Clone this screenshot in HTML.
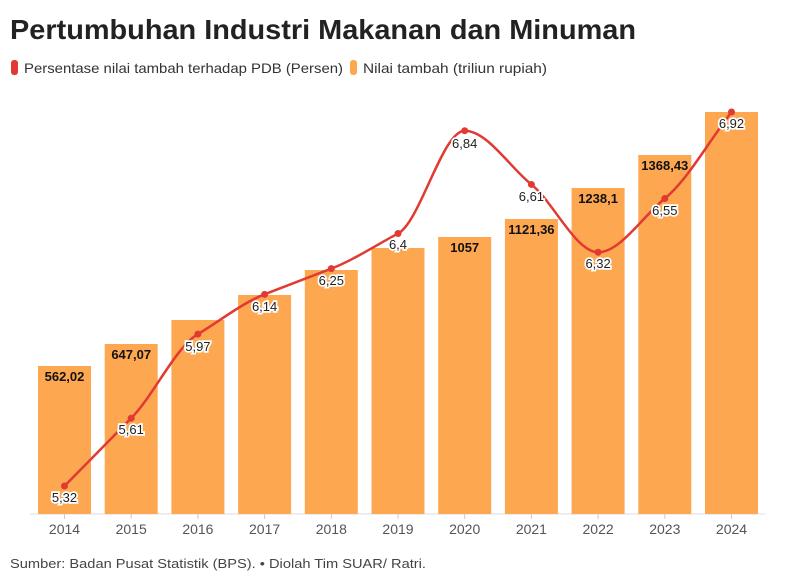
<!DOCTYPE html>
<html><head><meta charset="utf-8"><style>
body{margin:0;background:#fff;width:795px;height:582px;overflow:hidden;font-family:"Liberation Sans",sans-serif}
</style></head><body>
<svg width="795" height="582" xmlns="http://www.w3.org/2000/svg" style="font-family:'Liberation Sans',sans-serif">
<text x="10" y="39" font-size="28" font-weight="bold" fill="#222" textLength="626" lengthAdjust="spacingAndGlyphs">Pertumbuhan Industri Makanan dan Minuman</text>
<rect x="11" y="60" width="7" height="15" rx="3" fill="#e03a32"/>
<text x="24" y="73" font-size="14" fill="#333" textLength="319" lengthAdjust="spacingAndGlyphs">Persentase nilai tambah terhadap PDB (Persen)</text>
<rect x="350" y="60" width="7" height="15" rx="3" fill="#fda751"/>
<text x="363" y="73" font-size="14" fill="#333" textLength="184" lengthAdjust="spacingAndGlyphs">Nilai tambah (triliun rupiah)</text>
<line x1="30" y1="514" x2="765" y2="514" stroke="#ddd"/>
<g fill="#fda751">
<rect x="38" y="366" width="53" height="148"/>
<rect x="104.7" y="344" width="53" height="170"/>
<rect x="171.4" y="320" width="53" height="194"/>
<rect x="238.1" y="295" width="53" height="219"/>
<rect x="304.8" y="270" width="53" height="244"/>
<rect x="371.5" y="248" width="53" height="266"/>
<rect x="438.2" y="237" width="53" height="277"/>
<rect x="504.9" y="219" width="53" height="295"/>
<rect x="571.6" y="188" width="53" height="326"/>
<rect x="638.3" y="155" width="53" height="359"/>
<rect x="705" y="112" width="53" height="402"/>
</g>
<g stroke="#ccc"><line x1="64.5" y1="514" x2="64.5" y2="519"/><line x1="131.2" y1="514" x2="131.2" y2="519"/><line x1="197.9" y1="514" x2="197.9" y2="519"/><line x1="264.6" y1="514" x2="264.6" y2="519"/><line x1="331.3" y1="514" x2="331.3" y2="519"/><line x1="398" y1="514" x2="398" y2="519"/><line x1="464.7" y1="514" x2="464.7" y2="519"/><line x1="531.4" y1="514" x2="531.4" y2="519"/><line x1="598.1" y1="514" x2="598.1" y2="519"/><line x1="664.8" y1="514" x2="664.8" y2="519"/><line x1="731.5" y1="514" x2="731.5" y2="519"/></g>
<g font-size="14" fill="#555" text-anchor="middle">
<text x="64.5" y="534">2014</text><text x="131.2" y="534">2015</text><text x="197.9" y="534">2016</text><text x="264.6" y="534">2017</text><text x="331.3" y="534">2018</text><text x="398" y="534">2019</text><text x="464.7" y="534">2020</text><text x="531.4" y="534">2021</text><text x="598.1" y="534">2022</text><text x="664.8" y="534">2023</text><text x="731.5" y="534">2024</text>
</g>
<g font-size="13" font-weight="bold" fill="#111" text-anchor="middle" stroke="#fda751" stroke-width="3" paint-order="stroke">
<text x="64.5" y="381">562,02</text><text x="131.2" y="359">647,07</text><text x="464.7" y="252">1057</text><text x="531.4" y="234">1121,36</text><text x="598.1" y="203">1238,1</text><text x="664.8" y="170">1368,43</text>
</g>
<path id="ln" fill="none" stroke="#e03a32" stroke-width="2.5"/>
<g id="dots" fill="#e03a32"></g>
<g font-size="13" fill="#222" text-anchor="middle" stroke="#fff" stroke-width="3.5" paint-order="stroke">
<text x="64.5" y="502">5,32</text><text x="131.2" y="434">5,61</text><text x="197.9" y="351">5,97</text><text x="264.6" y="311">6,14</text><text x="331.3" y="285">6,25</text><text x="398" y="249">6,4</text><text x="464.7" y="148">6,84</text><text x="531.4" y="201">6,61</text><text x="598.1" y="268">6,32</text><text x="664.8" y="215">6,55</text><text x="731.5" y="128">6,92</text>
</g>
<text x="10" y="568" font-size="13" fill="#444" textLength="416" lengthAdjust="spacingAndGlyphs">Sumber: Badan Pusat Statistik (BPS). • Diolah Tim SUAR/ Ratri.</text>
</svg>
<script>
var v=[5.32,5.61,5.97,6.14,6.25,6.4,6.84,6.61,6.32,6.55,6.92];
var P=v.map(function(y,i){return [64.5+i*66.7,112+(6.92-y)*233.75];});
var n=P.length,m=[],s=[];
for(var i=0;i<n-1;i++)s.push((P[i+1][1]-P[i][1])/(P[i+1][0]-P[i][0]));
for(i=0;i<n;i++){
 if(i==0)m.push(s[0]);else if(i==n-1)m.push(s[n-2]);
 else{var a=s[i-1],b=s[i];m.push(a*b<=0?0:(Math.sign(a)*Math.min(Math.abs(a),Math.abs(b),Math.abs((a+b)/2))));}
}
var d="M"+P[0][0]+","+P[0][1];
for(i=0;i<n-1;i++){var h=(P[i+1][0]-P[i][0])/3;
d+="C"+(P[i][0]+h)+","+(P[i][1]+m[i]*h)+" "+(P[i+1][0]-h)+","+(P[i+1][1]-m[i+1]*h)+" "+P[i+1][0]+","+P[i+1][1];}
document.getElementById("ln").setAttribute("d",d);
var g=document.getElementById("dots");
P.forEach(function(p){var c=document.createElementNS("http://www.w3.org/2000/svg","circle");c.setAttribute("cx",p[0]);c.setAttribute("cy",p[1]);c.setAttribute("r",3.5);g.appendChild(c);});
</script>
</body></html>
